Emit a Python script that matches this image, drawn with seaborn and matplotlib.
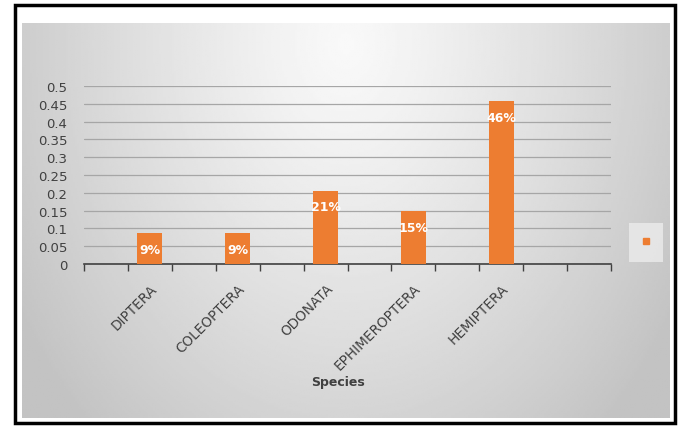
import numpy as np
import pandas as pd
import matplotlib
matplotlib.use("Agg")
import matplotlib.pyplot as plt
from matplotlib.patches import Rectangle
from matplotlib.lines import Line2D
import seaborn as sns

# 12 category slots as in the original sheet, blanks in between
slot_labels = ["", "DIPTERA", "", "COLEOPTERA", "", "ODONATA", "",
               "EPHIMEROPTERA", "", "HEMIPTERA", "", ""]
slot_values = [0, 0.087, 0, 0.087, 0, 0.206, 0, 0.148, 0, 0.457, 0, 0]
y_ticks = [0, 0.05, 0.1, 0.15, 0.2, 0.25, 0.3, 0.35, 0.4, 0.45, 0.5]
x_title = "Species"

bar_color = "#ED7D31"
text_color = "#404040"

sns.set_style("white")
plt.rcParams["font.family"] = ["DejaVu Sans"]

W, H = 684, 427
fig = plt.figure(figsize=(W / 100, H / 100), dpi=100)
fig.patch.set_facecolor("white")

# gray gradient chart area
bg = fig.add_axes([22 / W, 1 - 419 / H, (670 - 22) / W, (419 - 24) / H])
gx = np.linspace(-1, 1, 300)
gy = np.linspace(0, 1, 200)
X, Y = np.meshgrid(gx, gy)
r = np.sqrt((X / 1.0) ** 2 + ((Y - 0.05) / 1.1) ** 2)
shade = 0.975 - 0.17 * np.clip(r, 0, 1.2) ** 1.2
bg.imshow(shade, cmap="gray", vmin=0, vmax=1, aspect="auto",
          extent=[0, 1, 0, 1], origin="upper")
bg.set_axis_off()

# outer black frame
fig.patches.append(Rectangle((15 / W, 1 - 424 / H), (675 - 15) / W, (424 - 6) / H,
                             transform=fig.transFigure, fill=False,
                             edgecolor="black", linewidth=2.5, zorder=10))

ax = fig.add_axes([84 / W, 1 - 265 / H, (611 - 84) / W, (265 - 87) / H])
ax.patch.set_alpha(0)

df = pd.DataFrame({"slot": np.arange(len(slot_labels)), "value": slot_values})
sns.barplot(data=df, x="slot", y="value", color=bar_color, saturation=1,
            width=0.57, linewidth=0, edgecolor="none", ax=ax, zorder=3)

ax.set_xlim(-0.5, len(slot_labels) - 0.5)
ax.set_ylim(0, 0.5)
ax.set_yticks(y_ticks)
ax.set_yticklabels([f"{t:g}" for t in y_ticks], fontsize=9.5, color=text_color)
ax.tick_params(axis="y", length=0, pad=12)
ax.yaxis.grid(True, color="#a6a6a6", linewidth=0.9, zorder=0)
ax.set_axisbelow(True)

ax.set_xticks(np.arange(len(slot_labels)))
ax.set_xticklabels(slot_labels, rotation=45, ha="right", rotation_mode="anchor",
                   fontsize=9.8, color=text_color)
ax.tick_params(axis="x", which="major", bottom=False, length=0, pad=12)
ax.set_xticks(np.arange(-0.5, len(slot_labels)), minor=True)
ax.tick_params(axis="x", which="minor", bottom=True, direction="out",
               length=5, width=1, color="#404040")

for s in ["top", "right", "left"]:
    ax.spines[s].set_visible(False)
ax.spines["bottom"].set_color("#404040")
ax.spines["bottom"].set_linewidth(1.2)

ax.set_ylabel("")
ax.set_xlabel("")
fig.text(338 / W, 1 - 383 / H, x_title, ha="center", va="center",
         fontsize=9, fontweight="bold", color=text_color)

# percentage labels at inside end
for i, v in enumerate(slot_values):
    if v > 0:
        ax.annotate(f"{v:.0%}", (i, v), xytext=(0, -16), textcoords="offset pixels",
                    ha="center", va="center", color="white", fontsize=9,
                    fontweight="bold", zorder=5)

# legend with an empty entry
handle = Line2D([], [], marker="s", linestyle="none", color=bar_color, markersize=5)
leg = fig.legend([handle], [""], loc="center", bbox_to_anchor=(646 / W, 1 - 243 / H),
                 frameon=True, handlelength=0.6, handletextpad=0, borderpad=0.9,
                 fancybox=False)
leg.get_frame().set_facecolor("#ececec")
leg.get_frame().set_edgecolor("none")

fig.savefig("out.png", dpi=100)
